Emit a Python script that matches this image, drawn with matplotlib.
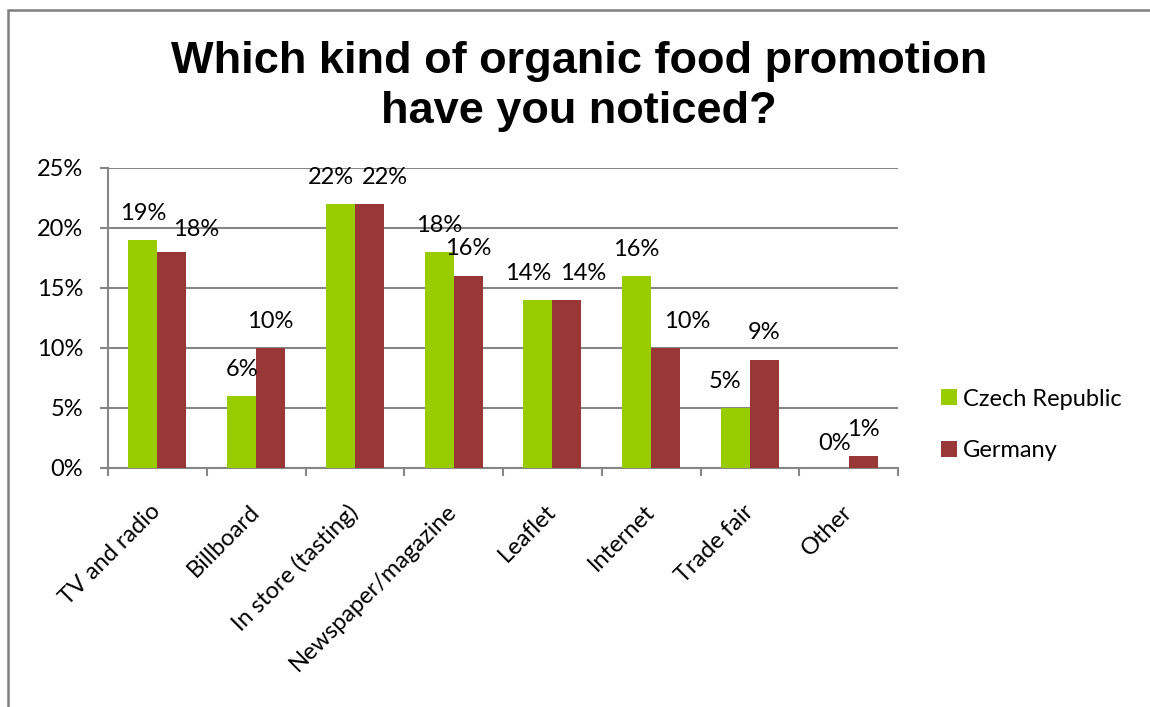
import matplotlib.pyplot as plt
from matplotlib.patches import Rectangle
import numpy as np

categories = ["TV and radio", "Billboard", "In store (tasting)", "Newspaper/magazine",
              "Leaflet", "Internet", "Trade fair", "Other"]
czech = [19, 6, 22, 18, 14, 16, 5, 0]
germany = [18, 10, 22, 16, 14, 10, 9, 1]
series_names = ["Czech Republic", "Germany"]

# label nudges in pixels (dx, dy above bar top)
czech_nudge = [(0, 27), (0, 27), (-9.5, 27), (0, 27), (-9.5, 27), (0, 26), (-10, 26.5), (0, 25)]
germany_nudge = [(24, 23), (0, 27), (16, 27), (0, 27.5), (16.5, 27), (21.5, 27), (0, 27.5), (0, 26)]

GREEN = "#99CC00"
RED = "#993737"
GRID = "#868686"
FS = 17

plt.rcParams['font.family'] = ['Lato', 'DejaVu Sans']

fig = plt.figure(figsize=(11.5, 7.07), dpi=100)
W, H = 1150, 707
ax = fig.add_axes([108 / W, 1 - 468 / H, (898 - 108) / W, (468 - 168) / H])

# outer chart frame
fig.patches.append(Rectangle((7.5 / W, -0.05), 1.1, 1 - 9.5 / H + 0.05, transform=fig.transFigure,
                             fill=False, edgecolor="#7f7f7f", linewidth=1.8, zorder=0))

x = np.arange(len(categories)) + 0.5
bw = 29 / 98.75
b1 = ax.bar(x - bw / 2, czech, bw, color=GREEN, label=series_names[0], zorder=3)
b2 = ax.bar(x + bw / 2, germany, bw, color=RED, label=series_names[1], zorder=3)

for bars, vals, nudge in [(b1, czech, czech_nudge), (b2, germany, germany_nudge)]:
    for rect, v, (dx, dy) in zip(bars, vals, nudge):
        ax.annotate(f"{v}%", (rect.get_x() + rect.get_width() / 2, v),
                    xytext=(dx, dy), textcoords="offset pixels",
                    ha="center", va="center", fontsize=FS, color="black", zorder=4)

ax.set_xlim(0, len(categories))
ax.set_ylim(0, 25)
ax.set_yticks(np.arange(0, 26, 5))
ax.set_yticklabels([f"{t}%" for t in range(0, 26, 5)], fontsize=FS)
ax.yaxis.grid(True, color=GRID, linewidth=1.5, zorder=0)
ax.set_axisbelow(True)

# category ticks sit between groups, labels at group centres
ax.set_xticks(np.arange(len(categories) + 1), minor=True)
ax.set_xticks(x)
ax.set_xticklabels(categories, rotation=45, ha="right", va="center",
                   rotation_mode="anchor", fontsize=FS)
ax.tick_params(axis="x", which="major", length=0, pad=29)
ax.tick_params(axis="x", which="minor", length=6, width=1.5, color=GRID, direction="out")
ax.tick_params(axis="y", length=6, width=1.5, color=GRID, pad=12)

for s in ["top", "right"]:
    ax.spines[s].set_visible(False)
for s in ["left", "bottom"]:
    ax.spines[s].set_color(GRID)
    ax.spines[s].set_linewidth(1.5)

fig.legend(handles=[b1, b2], labels=series_names, loc="center left",
           bbox_to_anchor=(941 / W, 1 - 425 / H), frameon=False, fontsize=FS,
           handlelength=0.68, handleheight=0.68, handletextpad=0.25, labelspacing=1.3,
           borderpad=0, borderaxespad=0)

title_kw = dict(ha="center", va="baseline", fontsize=32.5, fontweight="bold",
                family=["Liberation Sans", "DejaVu Sans"])
fig.text(579 / W, 1 - 73 / H, "Which kind of organic food promotion", **title_kw)
fig.text(579 / W, 1 - 123 / H, "have you noticed?", **title_kw)

fig.savefig("out.png", dpi=100)
